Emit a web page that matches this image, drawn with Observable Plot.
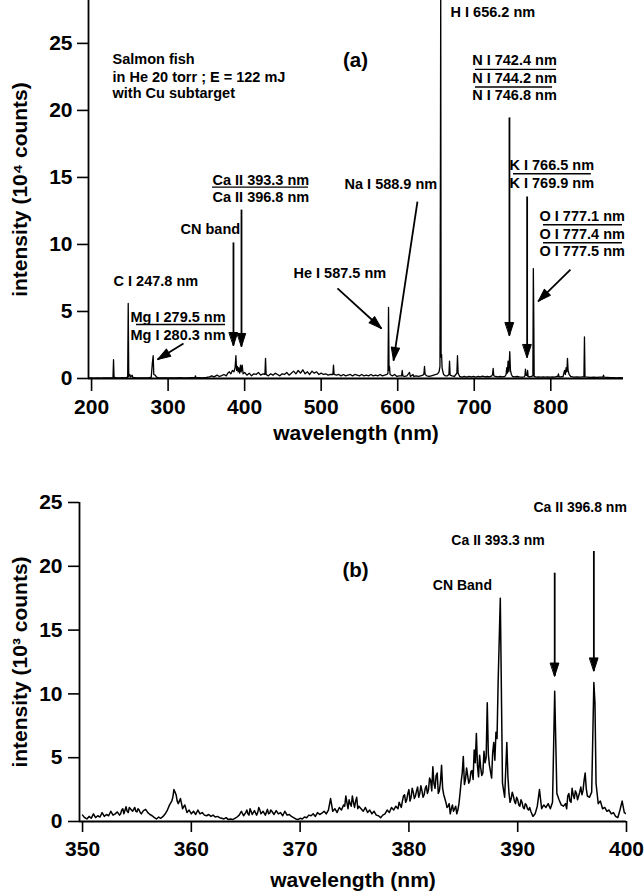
<!DOCTYPE html>
<html><head><meta charset="utf-8">
<script src="https://cdn.jsdelivr.net/npm/d3@7"></script>
<script src="https://cdn.jsdelivr.net/npm/@observablehq/plot@0.6"></script>
<style>
body{margin:0;background:#fff;}
#wrap{width:644px;}
#wrap svg{display:block;}
</style></head><body><div id="wrap"></div>
<script>
// ---------- Panel (a): full spectrum, intensity in 10^4 counts ----------
const aSpectrum = [
[196,0.03],[200,0.05],[204,0.03],[208,0.05],[212,0.03],[216,0.05],[220,0.04],[224,0.05],[228,0.06],[228.7,1.4],[229.4,0.1],
[232,0.05],[236,0.04],[240,0.06],[244,0.05],[247.2,0.1],[247.9,5.6],[248.6,0.15],[250,0.3],[251,0.1],[253,0.25],[254,0.08],
[258,0.05],[262,0.04],[266,0.05],[270,0.04],[274,0.05],[278,0.1],[279.5,1.2],[280.5,1.7],[281.3,0.3],[283,0.25],[285,0.1],
[288,0.05],[292,0.04],[296,0.05],[300,0.04],[305,0.05],[310,0.04],[315,0.06],[320,0.05],[325,0.04],[330,0.06],[335,0.06],
[335.8,0.2],[336.6,0.05],[340,0.06],[345,0.05],[350,0.08],[354,0.12],[357,0.2],[360,0.12],[364,0.25],[367,0.15],[370,0.22],
[373,0.3],[376,0.2],[378,0.4],[380,0.5],[382,0.35],[384,0.6],[386,0.5],[387.5,0.8],[388.6,1.7],[389.5,0.6],[390.5,0.9],
[391.5,0.5],[392.5,0.8],[393.5,0.4],[394.6,1.0],[395.5,0.5],[396.8,1.0],[398,0.35],[400,0.45],[403,0.25],[406,0.4],[409,0.2],
[412,0.35],[415,0.3],[418,0.45],[421,0.25],[424,0.35],[426.5,0.3],[427.3,1.5],[428.1,0.3],[431,0.2],[434,0.35],[437,0.25],
[440,0.4],[443,0.3],[446,0.2],[449,0.35],[452,0.3],[455,0.45],[458,0.25],[461,0.4],[464,0.55],[467,0.35],[470,0.6],[473,0.4],
[476,0.65],[479,0.35],[482,0.5],[485,0.3],[488,0.55],[491,0.4],[494,0.5],[497,0.3],[500,0.4],[503,0.3],[506,0.35],[509,0.25],
[512,0.3],[515.3,0.3],[516.1,1.0],[516.9,0.3],[520,0.25],[523,0.3],[526,0.2],[529,0.3],[532,0.2],[535,0.25],[538,0.3],[541,0.2],
[544,0.3],[547,0.25],[550,0.2],[553,0.3],[556,0.2],[559,0.25],[562,0.2],[565,0.3],[568,0.2],[571,0.25],[574,0.2],[577,0.3],
[580,0.2],[583,0.25],[586,0.3],[587.3,0.4],[588.0,5.3],[588.7,0.6],[589.3,0.9],[590,0.3],[593,0.2],[596,0.3],[599,0.15],
[602,0.2],[605.1,0.2],[605.9,0.6],[606.7,0.2],[609,0.15],[612,0.2],[615.4,0.45],[616.5,0.15],[619,0.25],[620,0.3],[621,0.15],
[624,0.2],[627,0.15],[630,0.2],[633,0.25],[634.2,0.35],[635,0.9],[635.8,0.3],[638,0.2],[641,0.15],[644,0.2],[647,0.25],
[650,0.3],[652,0.35],[654,0.5],[655.2,0.9],[655.8,15.8],[656.2,29.5],[656.7,1.6],[657.3,1.8],[658,0.8],[659,0.5],[660,0.3],
[662,0.2],[665,0.2],[666.9,0.3],[667.7,1.3],[668.5,0.25],[671,0.2],[674,0.15],[677.3,0.4],[678.1,1.7],[678.9,0.4],[681,0.15],
[684,0.1],[687,0.15],[690,0.1],[693,0.15],[696,0.12],[699,0.15],[702,0.1],[705,0.15],[708,0.12],[711,0.18],[714,0.12],
[717,0.15],[720,0.12],[723,0.2],[723.9,0.3],[724.7,0.75],[725.5,0.2],[728,0.15],[731,0.12],[734,0.15],[737,0.12],[740,0.15],
[741.6,0.3],[742.4,0.8],[743.2,0.4],[744.2,1.3],[745.2,0.5],[746.4,2.0],[747.3,0.6],[748.5,0.3],[750,0.15],[753,0.12],
[756,0.15],[759,0.12],[762,0.1],[765,0.12],[766.2,0.2],[766.9,0.7],[767.7,0.25],[769.1,0.2],[769.7,0.6],[770.4,0.15],
[773,0.12],[776.6,0.2],[777.2,8.2],[777.6,5.8],[778.3,0.15],[781,0.1],[784,0.12],[787,0.1],[790,0.12],[793,0.1],[796,0.12],
[799,0.1],[802,0.12],[805,0.1],[808,0.15],[809.3,0.15],[810,0.35],[810.7,0.12],[813,0.12],[816,0.15],[818,0.6],[819,0.3],
[820,0.8],[821,0.5],[821.8,1.5],[822.6,0.6],[824,0.3],[826,0.15],[830,0.1],[834,0.12],[838,0.1],[842,0.12],[843.3,0.12],
[844,3.1],[844.7,0.12],[848,0.1],[852,0.08],[856,0.1],[860,0.08],[864,0.1],[868.2,0.1],[868.9,0.25],[869.6,0.1],[874,0.08],
[878,0.06],[882,0.07],[886,0.05],[890,0.06],[895,0.05]
];
const aXTicks = [200, 300, 400, 500, 600, 700, 800];
const aYTicks = [0, 5, 10, 15, 20, 25];
const aLabels = [
  {text: "Salmon fish", x: 227.4, y: 23.8},
  {text: "in He 20 torr ; E = 122 mJ", x: 227.4, y: 22.5},
  {text: "with Cu subtarget", x: 227.4, y: 21.3},
  {text: "H I 656.2 nm", x: 669, y: 27.3},
  {text: "N I 742.4 nm", x: 697.3, y: 23.7},
  {text: "N I 744.2 nm", x: 697.3, y: 22.4},
  {text: "N I 746.8 nm", x: 697.3, y: 21.1},
  {text: "K I 766.5 nm", x: 746, y: 15.9},
  {text: "K I 769.9 nm", x: 746, y: 14.55},
  {text: "O I 777.1 nm", x: 785.2, y: 12.1},
  {text: "O I 777.4 nm", x: 785.2, y: 10.75},
  {text: "O I 777.5 nm", x: 785.2, y: 9.48},
  {text: "Na I 588.9 nm", x: 530.5, y: 14.48},
  {text: "He I 587.5 nm", x: 463.8, y: 7.84},
  {text: "C I 247.8 nm", x: 228.7, y: 7.26},
  {text: "Mg I 279.5 nm", x: 250.9, y: 4.57},
  {text: "Mg I 280.3 nm", x: 250.9, y: 3.21},
  {text: "CN band", x: 316.2, y: 11.1},
  {text: "Ca II 393.3 nm", x: 358, y: 14.78},
  {text: "Ca II 396.8 nm", x: 358, y: 13.53}
];
const aSeparators = [
  {y: 23.06, x1: 701.6, x2: 807.4},
  {y: 21.75, x1: 701.6, x2: 802.3},
  {y: 15.27, x1: 751.3, x2: 853},
  {y: 11.47, x1: 790.5, x2: 893.7},
  {y: 10.13, x1: 790.5, x2: 893.7},
  {y: 4.03, x1: 258.7, x2: 375},
  {y: 14.28, x1: 358, x2: 483.4}
];
const aArrows = [
  {x1: 746.0, y1: 19.48, x2: 746.0, y2: 3.21, angle: 180},
  {x1: 769.1, y1: 13.58, x2: 769.1, y2: 1.57, angle: 180},
  {x1: 825.7, y1: 8.13, x2: 783.5, y2: 5.75, angle: 225},
  {x1: 625.8, y1: 13.2, x2: 594.5, y2: 1.34, angle: 188.6},
  {x1: 521.3, y1: 6.72, x2: 578.8, y2: 3.73, angle: 132.3},
  {x1: 320.1, y1: 2.61, x2: 286.2, y2: 1.42, angle: 238.4},
  {x1: 385.4, y1: 10.15, x2: 385.4, y2: 2.46, angle: 180},
  {x1: 395.9, y1: 12.6, x2: 395.9, y2: 2.39, angle: 180}
];
const aPanel = [{text: "(a)", x: 544.8, y: 23.7}];

// ---------- Panel (b): 350-400 nm zoom, intensity in 10^3 counts ----------
const bSpectrum = [
[350.0,0.5],[350.2,0.3],[350.4,0.2],[350.6,0.4],[350.8,0.25],[351.0,0.6],[351.2,0.3],[351.4,0.45],[351.6,0.35],[351.8,0.7],
[352.0,0.4],[352.2,0.55],[352.4,0.45],[352.6,0.8],[352.8,0.5],[353.0,0.6],[353.2,0.75],[353.4,0.5],[353.6,0.9],[353.8,0.6],
[354.0,1.15],[354.2,0.7],[354.4,1.0],[354.6,0.8],[354.8,1.1],[355.0,0.75],[355.2,0.9],[355.4,0.6],[355.6,0.85],[355.8,0.95],
[356.0,0.7],[356.2,0.55],[356.4,0.45],[356.6,0.3],[356.8,0.2],[357.0,0.35],[357.2,0.25],[357.4,0.4],[357.6,0.6],[357.8,0.9],
[358.0,1.3],[358.2,1.6],[358.4,2.5],[358.6,2.1],[358.8,1.4],[359.0,1.8],[359.2,1.0],[359.4,1.3],[359.6,0.7],[359.8,0.9],
[360.0,0.6],[360.2,0.8],[360.4,0.55],[360.6,0.9],[360.8,0.6],[361.0,0.7],[361.2,0.5],[361.4,0.45],[361.6,0.55],[361.8,0.4],
[362.0,0.5],[362.2,0.35],[362.4,0.4],[362.6,0.3],[362.8,0.25],[363.0,0.2],[363.2,0.3],[363.4,0.15],[363.6,0.2],[363.8,0.15],
[364.0,0.25],[364.2,0.35],[364.4,0.5],[364.6,0.8],[364.8,0.45],[365.0,0.7],[365.2,0.6],[365.4,1.0],[365.6,0.55],[365.8,0.85],
[366.0,0.5],[366.2,1.1],[366.4,0.6],[366.6,0.8],[366.8,0.5],[367.0,0.95],[367.2,0.65],[367.4,0.8],[367.6,0.55],[367.8,0.85],
[368.0,0.6],[368.2,0.7],[368.4,0.45],[368.6,0.8],[368.8,0.5],[369.0,0.55],[369.2,0.4],[369.4,0.3],[369.6,0.2],[369.8,0.15],
[370.0,0.25],[370.2,0.2],[370.4,0.35],[370.6,0.3],[370.8,0.5],[371.0,0.45],[371.2,0.6],[371.4,0.4],[371.6,0.7],[371.8,0.55],
[372.0,0.65],[372.2,0.8],[372.4,0.6],[372.6,0.9],[372.8,1.8],[373.0,0.8],[373.2,1.0],[373.4,0.7],[373.6,1.1],[373.8,0.9],
[374.0,1.3],[374.2,2.0],[374.4,1.0],[374.6,1.4],[374.8,2.0],[375.0,1.1],[375.2,1.9],[375.4,1.2],[375.6,1.0],[375.8,0.8],
[376.0,1.1],[376.2,0.7],[376.4,0.9],[376.6,0.6],[376.8,0.8],[377.0,0.5],[377.2,0.45],[377.4,0.3],[377.6,0.5],[377.8,0.6],
[378.0,0.9],[378.2,0.7],[378.4,1.1],[378.6,0.9],[378.8,1.2],[379.0,1.0],[379.2,1.3],[379.4,1.6],[379.6,2.1],[379.8,1.7],
[380.0,2.5],[380.2,1.9],[380.4,2.3],[380.6,2.0],[380.8,2.7],[381.0,2.2],[381.2,2.4],[381.4,2.1],[381.6,2.8],[381.8,2.5],
[382.0,3.2],[382.2,4.3],[382.4,2.6],[382.6,3.8],[382.8,2.4],[383.0,4.4],[383.2,2.1],[383.4,1.5],[383.6,1.2],[383.8,0.6],
[384.0,1.3],[384.2,1.0],[384.4,0.6],[384.6,1.4],[384.8,3.1],[385.0,5.1],[385.2,3.3],[385.4,3.6],[385.6,3.2],[385.8,4.0],
[386.0,5.6],[386.2,6.9],[386.4,3.5],[386.6,4.2],[386.8,3.8],[387.0,4.6],[387.2,9.3],[387.4,4.4],[387.6,3.4],[387.8,6.2],
[388.0,7.0],[388.2,10.9],[388.4,17.5],[388.6,3.0],[388.8,1.9],[389.0,6.2],[389.2,2.2],[389.4,1.8],[389.6,2.0],[389.8,1.4],
[390.0,1.7],[390.2,1.2],[390.4,1.5],[390.6,1.0],[390.8,1.3],[391.0,0.9],[391.2,0.8],[391.4,0.4],[391.6,0.6],[391.8,1.2],
[392.0,2.5],[392.2,1.0],[392.4,1.3],[392.6,1.1],[392.8,1.4],[393.0,1.0],[393.2,1.5],[393.4,10.2],[393.6,2.2],[393.8,1.7],
[394.0,1.3],[394.2,1.2],[394.4,1.4],[394.6,2.0],[394.8,1.6],[395.0,2.6],[395.2,1.8],[395.4,2.2],[395.6,2.0],[395.8,2.7],
[396.0,2.4],[396.2,3.8],[396.4,2.0],[396.6,1.9],[396.8,2.3],[397.0,10.9],[397.1,9.3],[397.2,3.0],[397.4,1.4],[397.6,1.6],
[397.8,1.0],[398.0,1.1],[398.2,0.8],[398.4,0.9],[398.6,0.6],[398.8,0.7],[399.0,0.4],[399.2,0.3],[399.4,0.9],[399.6,1.6],
[399.8,0.7],[400.0,0.6]
];
// extra in-between readings where the trace is densely jagged
const bSpectrumFine = [
[353.5,0.6],[353.7,1.0],[354.1,0.8],[354.3,1.1],[354.9,0.8],[355.1,1.0],[355.3,0.7],
[358.3,1.9],[358.5,2.3],[358.7,1.6],[358.9,1.6],[359.1,1.4],
[365.1,0.9],[365.3,0.5],[366.1,0.7],[366.3,0.9],[367.1,0.6],[367.3,0.9],
[374.1,1.2],[374.3,1.5],[374.5,1.7],[374.7,1.2],[374.9,1.5],[375.1,1.6],[375.3,1.0],
[379.1,1.5],[379.3,1.1],[379.5,2.0],[379.7,1.5],[379.9,2.2],[380.1,1.6],[380.3,2.6],[380.5,1.8],[380.7,2.4],[380.9,1.9],
[381.1,2.8],[381.3,1.9],[381.5,2.6],[381.7,2.2],[381.9,3.4],[382.1,2.4],[382.3,3.0],[382.5,3.6],[382.7,2.2],[382.9,3.1],
[383.1,2.6],[383.3,1.8],[383.5,1.1],[383.7,1.4],[383.9,1.0],[384.1,0.8],[384.3,1.2],[384.5,0.9],[384.7,2.2],[384.9,3.8],
[385.1,2.9],[385.3,4.2],[385.5,3.0],[385.7,3.9],[385.9,3.3],[386.1,4.6],[386.3,4.4],[386.5,5.2],[386.7,3.6],[386.9,5.5],
[387.1,5.0],[387.3,5.3],[387.5,3.9],[387.7,5.4],[387.9,4.8],[388.1,6.5],
[389.1,3.5],[389.3,1.5],[389.5,2.3],[389.7,1.6],[389.9,1.9],[390.1,1.3],[390.3,1.7],[390.5,1.1],[390.7,1.4],[390.9,1.0],[391.1,1.1],
[394.5,1.0],[394.7,2.2],[394.9,1.5],[395.1,2.1],[395.3,2.4],[395.5,1.7],[395.7,2.3],[395.9,2.1],[396.1,3.2],[396.3,2.6]
];
const bXTicks = [350, 360, 370, 380, 390, 400];
const bYTicks = [0, 5, 10, 15, 20, 25];
const bLabels = [
  {text: "Ca II 396.8 nm", x: 391.45, y: 24.6},
  {text: "Ca II 393.3 nm", x: 383.9, y: 22.0},
  {text: "CN Band", x: 382.2, y: 18.5}
];
const bArrows = [
  {x1: 393.4, y1: 19.5, x2: 393.4, y2: 11.4, angle: 180},
  {x1: 397.0, y1: 21.2, x2: 397.0, y2: 11.8, angle: 180}
];
const bPanel = [{text: "(b)", x: 375.1, y: 19.7}];

// ---------- drawing ----------
const FONT = "'Liberation Sans', Arial, Helvetica, sans-serif";
const headShape = {
  draw(ctx, l, r) { ctx.moveTo(0, -l); ctx.lineTo(-r, 0); ctx.lineTo(r, 0); ctx.closePath(); }
};

function panel(cfg) {
  return Plot.plot({
    width: 644, height: cfg.height,
    marginLeft: cfg.ml, marginRight: cfg.mr, marginTop: cfg.mt, marginBottom: cfg.mb,
    x: {domain: cfg.xDomain},
    y: {domain: cfg.yDomain},
    style: {fontFamily: FONT, color: "black", background: "white", overflow: "visible"},
    marks: [
      Plot.axisY({ticks: cfg.yTicks, tickSize: 11, tickPadding: cfg.yPad, fontSize: 21, fontWeight: "bold", strokeWidth: 1.6, label: null}),
      Plot.axisX({ticks: cfg.xTicks, tickSize: cfg.xTickSize, tickPadding: cfg.xPad, fontSize: 21, fontWeight: "bold", strokeWidth: 1.6, label: null}),
      Plot.ruleX([cfg.xDomain[0]], {strokeWidth: 1.8}),
      Plot.ruleY([0], {strokeWidth: 1.8}),
      Plot.lineY(cfg.data, {x: d => d[0], y: d => d[1], stroke: "black", strokeWidth: cfg.lineWidth, clip: true}),
      Plot.ruleY(cfg.seps, {y: "y", x1: "x1", x2: "x2", strokeWidth: 1.4}),
      Plot.link(cfg.arrows, {x1: "x1", y1: "y1", x2: "x2", y2: "y2", stroke: "black", strokeWidth: 1.8}),
      Plot.vector(cfg.arrows, {x: "x2", y: "y2", rotate: "angle", length: 13, r: 4.2, anchor: "end", shape: headShape, fill: "black", stroke: "black", strokeWidth: 1}),
      Plot.text(cfg.labels, {x: "x", y: "y", text: "text", textAnchor: "start", fontSize: cfg.labelSize, fontWeight: "bold", fill: "black"}),
      Plot.text(cfg.panel, {x: "x", y: "y", text: "text", textAnchor: "middle", fontSize: 20.5, fontWeight: "bold", fill: "black"}),
      Plot.text([cfg.yTitle], {text: d => d, frameAnchor: "left", textAnchor: "middle", lineAnchor: "middle", rotate: -90, dx: cfg.yTitleDx, fontSize: 21, fontWeight: "bold", fill: "black"}),
      Plot.text(["wavelength (nm)"], {text: d => d, frameAnchor: "bottom", textAnchor: "middle", lineAnchor: "middle", dy: cfg.xTitleDy, fontSize: 21, fontWeight: "bold", fill: "black"})
    ]
  });
}

const bAll = d3.sort(bSpectrum.concat(bSpectrumFine), d => d[0]);

const wrap = document.getElementById("wrap");
wrap.appendChild(panel({
  height: 445, ml: 88, mr: 21, mt: 0, mb: 67,
  xDomain: [196, 895], yDomain: [0, 28.2],
  xTicks: aXTicks, yTicks: aYTicks, xTickSize: 13, xPad: 8, yPad: 5, lineWidth: 1.3,
  data: aSpectrum, seps: aSeparators, arrows: aArrows, labels: aLabels, panel: aPanel,
  labelSize: 14.5, yTitle: "intensity (10\u2074 counts)", yTitleDx: -68, xTitleDy: 55
}));
wrap.appendChild(panel({
  height: 446, ml: 79, mr: 18, mt: 57, mb: 70,
  xDomain: [349.72, 400], yDomain: [0, 25],
  xTicks: bXTicks, yTicks: bYTicks, xTickSize: 11, xPad: 9, yPad: 6, lineWidth: 1.5,
  data: bAll, seps: [], arrows: bArrows, labels: bLabels, panel: bPanel,
  labelSize: 14, yTitle: "intensity (10\u00b3 counts)", yTitleDx: -59, xTitleDy: 59
}));
</script>
</body></html>
